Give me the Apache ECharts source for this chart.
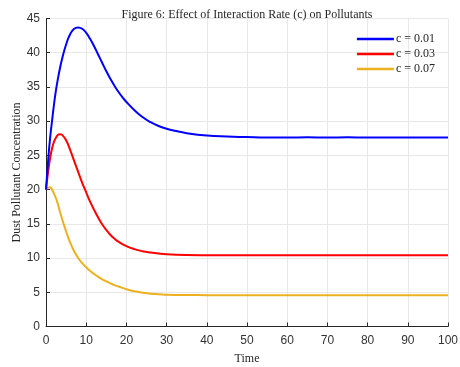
<!DOCTYPE html>
<html><head><meta charset="utf-8">
<script src="https://cdn.jsdelivr.net/npm/echarts@6/dist/echarts.min.js"></script>
<style>html,body{margin:0;padding:0;background:#fff}#c{width:460px;height:367px}</style>
</head><body><div id="c"></div>
<script>
var timeBlue = [0,0.5,1,1.5,2,2.5,3,3.5,4,5,6,7,8,9,10,11,12,13,14,15,16,17,18,19,20,22,24,26,28,30,32,35,40,45,50,55,60,65,70,75,80,90,100];
var blueVals = [20,24,27.4,30,32.5,34.6,36.3,37.8,39.1,41.2,42.7,43.5,43.7,43.5,42.9,42.0,40.9,39.7,38.5,37.3,36.2,35.2,34.3,33.5,32.8,31.6,30.6,29.85,29.3,28.9,28.6,28.25,27.9,27.75,27.68,27.62,27.6,27.65,27.6,27.65,27.6,27.6,27.6];
var timeRed = [0,0.5,1,1.5,2,2.5,3,3.5,4,5,6,7,8,9,10,11,12,13,14,15,16,17,18,20,22,24,26,28,30,35,40,50,60,70,80,90,100];
var redVals = [20,22.5,24.5,26,27,27.6,28,28.1,28.0,27.2,25.8,24.2,22.6,21.0,19.6,18.2,17.0,15.9,14.9,14.1,13.4,12.85,12.4,11.75,11.3,11.0,10.8,10.65,10.55,10.45,10.42,10.4,10.4,10.4,10.4,10.4,10.4];
var timeYellow = [0,0.5,1,1.5,2,2.5,3,3.5,4,5,6,7,8,9,10,11,12,13,14,15,16,17,18,20,22,25,28,30,35,40,50,60,70,80,90,100];
var yellowVals = [20,20.3,20.35,20.0,19.4,18.7,17.8,16.7,15.7,13.9,12.3,11.0,10.0,9.25,8.65,8.1,7.65,7.25,6.9,6.6,6.3,6.05,5.85,5.45,5.15,4.85,4.7,4.65,4.6,4.58,4.57,4.57,4.57,4.57,4.57,4.57];
var seriesNames = ['c = 0.01','c = 0.03','c = 0.07'];
var xTicks = [0,10,20,30,40,50,60,70,80,90,100];
var yTicks = [0,5,10,15,20,25,30,35,40,45];

function pairs(t, v){ return t.map(function(x,i){ return [x, v[i]]; }); }

var chart = echarts.init(document.getElementById('c'));
var axisCol = '#262626';
chart.setOption({
  animation: false,
  title: {
    text: 'Figure 6: Effect of Interaction Rate (c) on Pollutants',
    left: 242, top: 4, textAlign: 'center',
    textStyle: {fontFamily: 'Liberation Serif', fontSize: 12, fontWeight: 'normal', color: '#262626'}
  },
  legend: {
    right: 20, top: 28, orient: 'vertical',
    icon: 'rect', itemWidth: 37, itemHeight: 2.5, itemGap: 3,
    textStyle: {fontFamily: 'Liberation Serif', fontSize: 12, color: '#262626', padding: [0,0,0,-3]},
    data: seriesNames
  },
  grid: {left: 46, right: 12, top: 18.5, bottom: 40.5, containLabel: false, outerBoundsMode: 'none'},
  xAxis: {
    type: 'value', min: 0, max: 100, interval: 10,
    name: 'Time', nameLocation: 'middle', nameGap: 26, nameMoveOverlap: false,
    nameTextStyle: {fontFamily: 'Liberation Serif', fontSize: 12, color: '#262626'},
    axisLine: {show: true, lineStyle: {color: axisCol, width: 1}},
    axisTick: {show: true, inside: true, length: 4, lineStyle: {color: axisCol}},
    axisLabel: {fontFamily: 'Liberation Sans', fontSize: 12, color: '#333', margin: 8,
      formatter: function(v){ return xTicks.indexOf(v) >= 0 ? String(v) : ''; }},
    splitLine: {show: true, lineStyle: {color: '#e8e8e8', width: 1}}
  },
  yAxis: {
    type: 'value', min: 0, max: 45, interval: 5,
    name: 'Dust Pollutant Concentration', nameLocation: 'middle', nameGap: 23, nameMoveOverlap: false,
    nameTextStyle: {fontFamily: 'Liberation Serif', fontSize: 12, color: '#262626'},
    axisLine: {show: true, lineStyle: {color: axisCol, width: 1}},
    axisTick: {show: true, inside: true, length: 4, lineStyle: {color: axisCol}},
    axisLabel: {fontFamily: 'Liberation Sans', fontSize: 12, color: '#333', margin: 6,
      formatter: function(v){ return yTicks.indexOf(v) >= 0 ? String(v) : ''; }},
    splitLine: {show: true, lineStyle: {color: '#e8e8e8', width: 1}}
  },
  series: [
    {name: seriesNames[0], type: 'line', data: pairs(timeBlue, blueVals), showSymbol: false, smooth: 0.5,
     lineStyle: {color: '#0000ff', width: 2}, itemStyle: {color: '#0000ff'}, z: 3},
    {name: seriesNames[1], type: 'line', data: pairs(timeRed, redVals), showSymbol: false, smooth: 0.5,
     lineStyle: {color: '#ff0000', width: 2}, itemStyle: {color: '#ff0000'}, z: 2},
    {name: seriesNames[2], type: 'line', data: pairs(timeYellow, yellowVals), showSymbol: false, smooth: 0.5,
     lineStyle: {color: '#edb120', width: 2}, itemStyle: {color: '#edb120'}, z: 1}
  ]
});
</script></body></html>
